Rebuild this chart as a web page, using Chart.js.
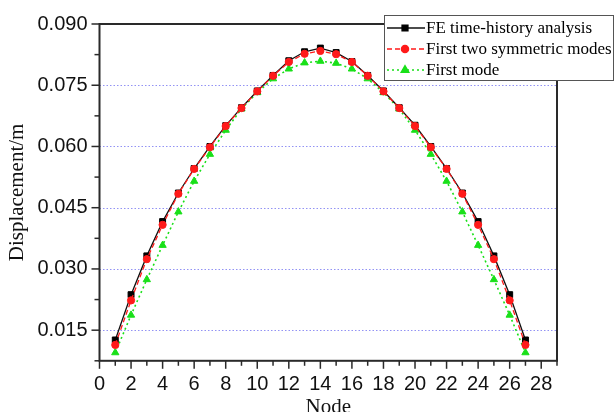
<!DOCTYPE html>
<html>
<head>
<meta charset="utf-8">
<script src="https://cdn.jsdelivr.net/npm/chart.js@4"></script>
<style>
  html, body { margin: 0; padding: 0; background: #fff; }
  #wrap { width: 615px; height: 412px; position: relative; }
</style>
</head>
<body>
<div id="wrap"><canvas id="c" width="615" height="412"></canvas></div>
<script>
// ---- data ----
const nodes = [1,2,3,4,5,6,7,8,9,10,11,12,13,14,15,16,17,18,19,20,21,22,23,24,25,26,27];
const feTimeHistory = [0.0126,0.0237,0.0332,0.0416,0.0486,0.0546,0.0600,0.0651,0.0695,0.0736,0.0774,0.0810,0.0832,0.0841,0.0830,0.0808,0.0774,0.0736,0.0695,0.0652,0.0600,0.0546,0.0486,0.0416,0.0332,0.0237,0.0126];
const firstTwoSymmetric = [0.0114,0.0223,0.0324,0.0408,0.0484,0.0545,0.0598,0.0650,0.0694,0.0735,0.0773,0.0807,0.0827,0.0834,0.0826,0.0807,0.0773,0.0735,0.0694,0.0650,0.0598,0.0545,0.0484,0.0408,0.0324,0.0223,0.0114];
const firstMode = [0.0095,0.0187,0.0274,0.0358,0.0440,0.0515,0.0581,0.0640,0.0692,0.0732,0.0766,0.0790,0.0805,0.0809,0.0804,0.0790,0.0766,0.0732,0.0692,0.0640,0.0581,0.0515,0.0440,0.0358,0.0274,0.0187,0.0095];
const seriesLabels = ["FE time-history analysis", "First two symmetric modes", "First mode"];
const yMajorLabels = ["0.015","0.030","0.045","0.060","0.075","0.090"];
const xTitle = "Node";
const yTitle = "Displacement/m";

const toXY = arr => nodes.map((n, i) => ({x: n, y: arr[i]}));
const Y_STEP = 0.0075;
const isMajorY = v => Math.round(v / Y_STEP) % 2 === 0;
const isMajorX = v => Math.round(v) % 2 === 0;

const COL_BLACK = '#111111', COL_RED = '#ff1a1a', COL_GREEN = '#19e019';

const decorPlugin = {
  id: 'decor',
  beforeDatasetsDraw(chart) {
    const {ctx, chartArea: a, scales: {x, y}} = chart;
    ctx.save();
    // dotted blue grid lines at major y ticks
    ctx.strokeStyle = 'rgba(110,110,240,0.75)';
    ctx.lineWidth = 1;
    ctx.setLineDash([1.5, 2]);
    y.ticks.forEach(t => {
      if (!isMajorY(t.value)) return;
      const py = Math.round(y.getPixelForValue(t.value)) + 0.5;
      if (py <= a.top + 2 || py >= a.bottom - 2) return;
      ctx.beginPath(); ctx.moveTo(a.left, py); ctx.lineTo(a.right, py); ctx.stroke();
    });
    ctx.setLineDash([]);
    ctx.restore();
  },
  afterDatasetsDraw(chart) {
    const {ctx, chartArea: a, scales: {x, y}} = chart;
    ctx.save();
    // frame
    ctx.strokeStyle = '#2a2a2a';
    ctx.lineWidth = 2;
    ctx.strokeRect(a.left, a.top, a.right - a.left, a.bottom - a.top);
    // tick marks
    ctx.lineWidth = 1.5;
    y.ticks.forEach(t => {
      const py = y.getPixelForValue(t.value);
      const len = isMajorY(t.value) ? 8 : 5;
      ctx.beginPath(); ctx.moveTo(a.left - len, py); ctx.lineTo(a.left, py); ctx.stroke();
    });
    x.ticks.forEach(t => {
      const px = x.getPixelForValue(t.value);
      const len = isMajorX(t.value) ? 8 : 5;
      ctx.beginPath(); ctx.moveTo(px, a.bottom); ctx.lineTo(px, a.bottom + len); ctx.stroke();
    });
    ctx.restore();
  },
  afterDraw(chart) {
    // legend box (drawn from dataset styles)
    const {ctx} = chart;
    const bx = 384, by = 15, bw = 229, bh = 65;
    ctx.save();
    ctx.fillStyle = '#ffffff';
    ctx.fillRect(bx, by, bw, bh);
    ctx.strokeStyle = '#555';
    ctx.lineWidth = 1;
    ctx.strokeRect(bx + 0.5, by + 0.5, bw, bh);
    const order = [0, 1, 2];
    const rowY = [28, 49, 70];
    order.forEach((di, k) => {
      const ds = chart.data.datasets[di];
      const ry = rowY[k];
      ctx.strokeStyle = ds.borderColor;
      ctx.lineWidth = ds.borderWidth;
      ctx.setLineDash(ds.borderDash || []);
      ctx.beginPath(); ctx.moveTo(387, ry); ctx.lineTo(425, ry); ctx.stroke();
      ctx.setLineDash([]);
      ctx.fillStyle = ds.pointBackgroundColor;
      ctx.strokeStyle = ds.pointBorderColor;
      Chart.helpers.drawPoint(ctx, {pointStyle: ds.pointStyle, rotation: 0, borderWidth: 1, radius: ds.pointRadius}, 405, ry);
      ctx.fillStyle = '#000';
      ctx.font = '17px "Liberation Serif", "Times New Roman", serif';
      ctx.textBaseline = 'middle';
      ctx.textAlign = 'left';
      ctx.fillText(ds.label, 426, ry + 1);
    });
    ctx.restore();
  }
};

new Chart(document.getElementById('c'), {
  type: 'line',
  data: {
    datasets: [
      {
        label: seriesLabels[0], data: toXY(feTimeHistory), order: 1,
        borderColor: COL_BLACK, borderWidth: 1.3, borderDash: [],
        pointStyle: 'rect', pointRadius: 4.2, pointBackgroundColor: '#000', pointBorderColor: '#000', pointBorderWidth: 1
      },
      {
        label: seriesLabels[1], data: toXY(firstTwoSymmetric), order: 0,
        borderColor: COL_RED, borderWidth: 1.3, borderDash: [5, 3],
        pointStyle: 'circle', pointRadius: 3.6, pointBackgroundColor: COL_RED, pointBorderColor: COL_RED, pointBorderWidth: 1
      },
      {
        label: seriesLabels[2], data: toXY(firstMode), order: 2,
        borderColor: COL_GREEN, borderWidth: 1.6, borderDash: [2, 3],
        pointStyle: 'triangle', pointRadius: 4.2, pointBackgroundColor: COL_GREEN, pointBorderColor: COL_GREEN, pointBorderWidth: 1
      }
    ]
  },
  options: {
    responsive: false,
    animation: false,
    devicePixelRatio: 1,
    layout: { padding: { top: 21.7, right: 58, left: 0, bottom: 0 } },
    plugins: { legend: { display: false }, tooltip: { enabled: false } },
    elements: { line: { tension: 0, fill: false } },
    scales: {
      x: {
        type: 'linear', min: 0, max: 29,
        grid: { display: false, drawTicks: false },
        border: { display: false },
        ticks: {
          stepSize: 1, autoSkip: false, maxRotation: 0, padding: 12,
          color: '#111', font: { family: '"Liberation Sans", Arial, sans-serif', size: 20 },
          callback: v => isMajorX(v) ? String(Math.round(v)) : ''
        },
        title: {
          display: true, text: xTitle, color: '#111', padding: 0,
          font: { family: '"Liberation Serif", "Times New Roman", serif', size: 21, lineHeight: 0.43 }
        },
        afterFit: s => { s.height = 51.2; }
      },
      y: {
        type: 'linear', min: 0.0075, max: 0.090,
        grid: { display: false, drawTicks: false },
        border: { display: false },
        ticks: {
          stepSize: Y_STEP, autoSkip: false, padding: 12,
          color: '#111', font: { family: '"Liberation Sans", Arial, sans-serif', size: 20 },
          callback: v => isMajorY(v) ? yMajorLabels[Math.round(v / Y_STEP) / 2 - 1] : ''
        },
        title: {
          display: true, text: yTitle, color: '#111', padding: { top: 5, bottom: 0 },
          font: { family: '"Liberation Serif", "Times New Roman", serif', size: 21 }
        },
        afterFit: s => { s.width = 99.5; }
      }
    }
  },
  plugins: [decorPlugin]
});
</script>
</body>
</html>
